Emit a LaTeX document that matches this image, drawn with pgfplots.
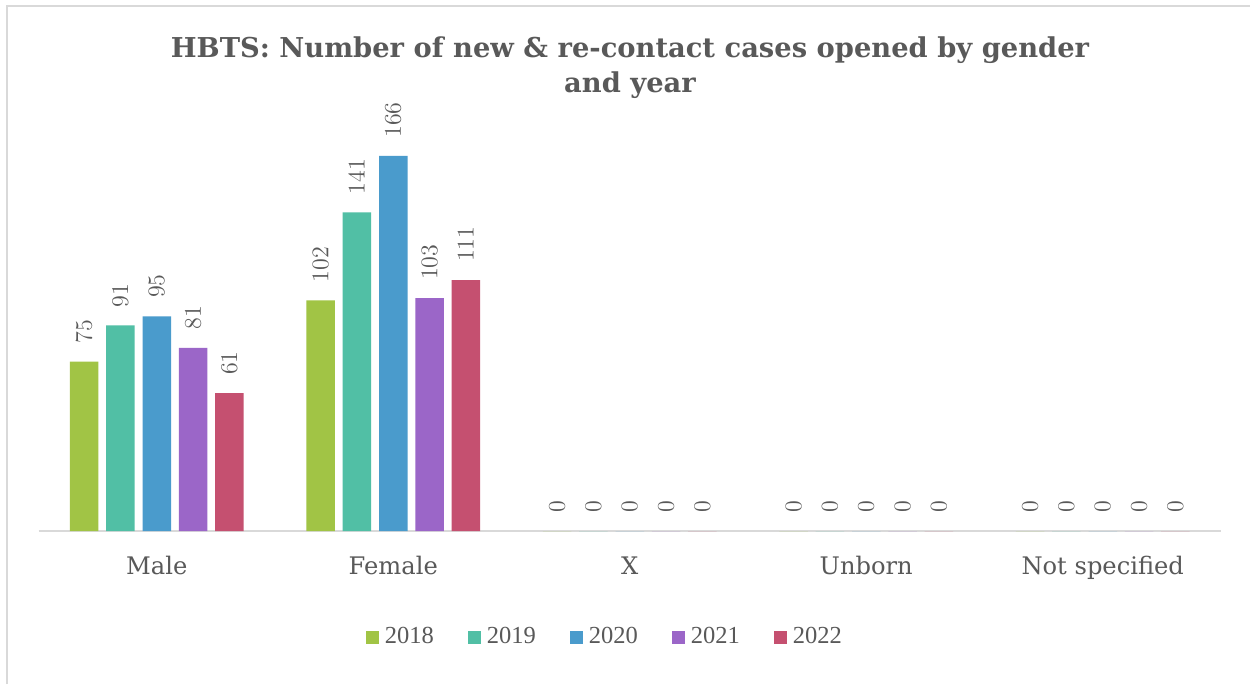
\documentclass[border=0pt]{standalone}
\usepackage{pgfplots}
\pgfplotsset{compat=1.18}
\usepackage{fontspec}
\setmainfont{Liberation Serif}
\newfontfamily\slab{DejaVu Serif}
\definecolor{txt}{HTML}{595959}
\definecolor{grid}{HTML}{D9D9D9}
\definecolor{c18}{HTML}{A1C445}
\definecolor{c19}{HTML}{51BFA5}
\definecolor{c20}{HTML}{4A9BCC}
\definecolor{c21}{HTML}{9B66C8}
\definecolor{c22}{HTML}{C55070}
\begin{document}
\begin{tikzpicture}
\useasboundingbox (0pt,0pt) rectangle (750pt,410.4pt);
\fill[white] (0pt,0pt) rectangle (750pt,410.4pt);
\draw[grid, line width=1.2pt] (4.2pt,0pt) -- (4.2pt,406.8pt) -- (750pt,406.8pt);
\node[anchor=base, text=txt, font=\slab\bfseries\fontsize{16.4pt}{19pt}\selectfont] at (378pt,375.6pt) {HBTS: Number of new \& re-contact cases opened by gender};
\node[anchor=base, text=txt, font=\slab\bfseries\fontsize{16.4pt}{19pt}\selectfont] at (378pt,354.6pt) {and year};
\begin{axis}[
  at={(23.1pt,91.8pt)}, anchor=south west,
  scale only axis, width=709.5pt, height=244.08pt,
  ybar=4.68pt, bar width=17.1pt,
  xmin=-0.5, xmax=4.5, ymin=0, ymax=180,
  enlarge x limits=false,
  axis y line=none, axis x line*=bottom,
  x axis line style={draw=grid, line width=0.9pt, -},
  xtick={0,1,2,3,4},
  xticklabels={Male,Female,X,Unborn,Not specified},
  major tick length=0pt,
  xticklabel style={anchor=base, yshift=-25.8pt, text=txt, font=\slab\fontsize{14.5pt}{17pt}\selectfont},
  nodes near coords,
  every node near coord/.append style={rotate=90, anchor=west, inner xsep=10.8pt, inner ysep=0pt, text=txt, font=\fontsize{14.6pt}{17pt}\selectfont},
  legend columns=5,
  legend style={draw=none, at={(0.4782,-0.2606)}, anchor=center, font=\fontsize{14.7pt}{17pt}\selectfont, text=txt,
    /tikz/every odd column/.append style={column sep=3.6pt},
    /tikz/every even column/.append style={column sep=20.4pt},
    nodes={inner sep=0pt}},
  legend image code/.code={\fill[#1] (0pt,-3.9pt) rectangle (7.8pt,3.9pt);},
]
\addplot[fill=c18, draw=none] coordinates {(0,75) (1,102) (2,0) (3,0) (4,0)};
\addplot[fill=c19, draw=none] coordinates {(0,91) (1,141) (2,0) (3,0) (4,0)};
\addplot[fill=c20, draw=none] coordinates {(0,95) (1,166) (2,0) (3,0) (4,0)};
\addplot[fill=c21, draw=none] coordinates {(0,81) (1,103) (2,0) (3,0) (4,0)};
\addplot[fill=c22, draw=none] coordinates {(0,61) (1,111) (2,0) (3,0) (4,0)};
\legend{2018,2019,2020,2021,2022}
\end{axis}
\end{tikzpicture}
\end{document}
